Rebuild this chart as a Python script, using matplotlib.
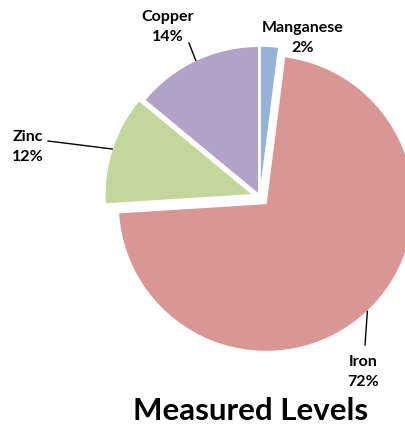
import numpy as np
import matplotlib
matplotlib.use("Agg")
import matplotlib.pyplot as plt

# data
metals = ["Manganese", "Iron", "Zinc", "Copper"]
percent = [2, 72, 12, 14]
colors = ["#95B3D7", "#D99694", "#C3D69B", "#B2A2C7"]
explode = [0.02, 0.06, 0.05, 0.02]
title = "Measured Levels"

# layout (pixels of a 406x426 image)
W, H = 406, 426
CX, CY, R = 260, 197, 148
# where the label text is centred, and whether a leader line is drawn
label_pos = {
    "Manganese": ((303, 38), False),
    "Iron": ((363, 372), True),
    "Zinc": ((28, 147), True),
    "Copper": ((168, 27), True),
}
line_end = {
    "Iron": (365, 345),
    "Zinc": (48, 141),
    "Copper": (189, 43),
}


def px(x, y):
    return (x - CX) / R, (CY - y) / R


plt.rcParams["font.family"] = ["Lato", "DejaVu Sans"]

fig = plt.figure(figsize=(W / 100, H / 100), dpi=100)
ax = fig.add_axes([0, 0, 1, 1])
wedges, _ = ax.pie(percent, colors=colors, explode=explode, startangle=90,
                   counterclock=False, radius=1,
                   wedgeprops=dict(edgecolor="white", linewidth=1))
ax.set_aspect("auto")
x0, y0 = px(0, H)
x1, y1 = px(W, 0)
ax.set_xlim(x0, x1)
ax.set_ylim(y0, y1)
ax.axis("off")

for w, name, p, ex in zip(wedges, metals, percent, explode):
    mid = np.deg2rad((w.theta1 + w.theta2) / 2)
    (tx, ty), has_line = label_pos[name]
    ax.text(*px(tx, ty), f"{name}\n{p}%", ha="center", va="center",
            fontsize=11.5, fontweight="bold", linespacing=1.55)
    if has_line:
        # start at the wedge rim on its middle angle
        sx, sy = (1 + ex) * np.cos(mid), (1 + ex) * np.sin(mid)
        ex_x, ex_y = px(*line_end[name])
        ax.plot([sx, ex_x], [sy, ex_y], color="black", lw=1)

ax.text(*px(251, 411), title, ha="center", va="center",
        fontsize=22.5, fontweight="bold")

fig.savefig("out.png", dpi=100)
